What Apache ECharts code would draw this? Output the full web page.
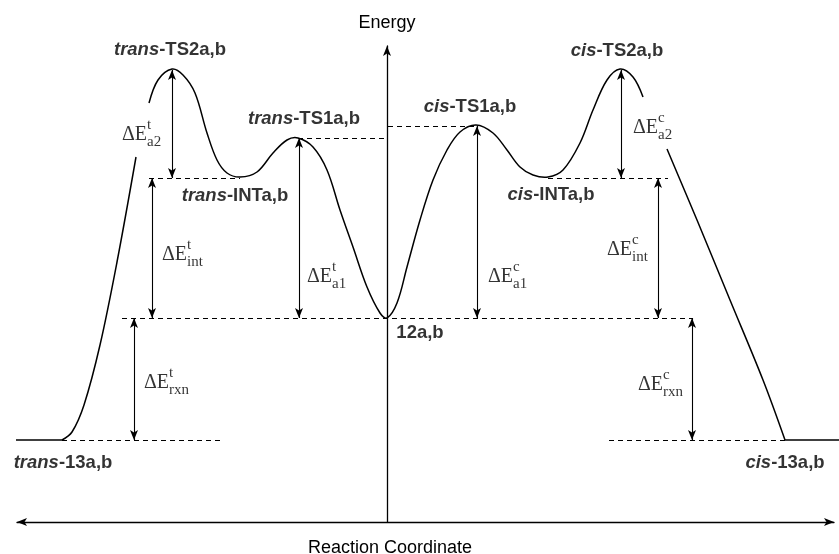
<!DOCTYPE html>
<html>
<head>
<meta charset="utf-8">
<script src="https://cdn.jsdelivr.net/npm/echarts@6/dist/echarts.min.js"></script>
<style>
  html, body { margin: 0; padding: 0; background: #fff; }
  #main { width: 839px; height: 554px; }
</style>
</head>
<body>
<div id="main"></div>
<script>
// stationary points of the profile: reaction coordinate / relative energy
const speciesNames = ['trans-13a,b', 'trans-TS2a,b', 'trans-INTa,b', 'trans-TS1a,b', '12a,b',
                      'cis-TS1a,b', 'cis-INTa,b', 'cis-TS2a,b', 'cis-13a,b'];
const speciesX = [-325, -215, -147, -89, 0, 89, 161, 233, 398];
const speciesE = [-30.5, 62.25, 35.25, 45, 0, 48.25, 35.25, 62.25, -30.5];

// the energy profile, in pieces (it breaks around the ΔE_a2 labels; product plateaus are flat)
const plateauTrans = [[-371, -30.5], [-325, -30.5]];
const curveTransOuter = [[-325, -30.5], [-315, -28.5], [-303, -21.75],
                         [-287, -6.75], [-270, 14], [-251, 40.25]];
const curveMiddle = [[-238, 53.75], [-229, 59.5], [-215, 62.25], [-204, 60.75], [-192, 56.25],
                     [-180, 46.25], [-170, 39.5], [-160, 36.25], [-147, 35.25], [-130, 36.5],
                     [-114, 41.25], [-100, 44.5], [-89, 45], [-74, 42.75], [-60, 37],
                     [-47, 27], [-34, 17.75], [-20, 7.75], [-7, 1.25], [0, 0],
                     [10, 3.75], [20, 12.75], [33, 24.5], [46, 34.5], [60, 42],
                     [73, 46.5], [89, 48.25], [106, 46.25], [120, 42], [133, 37.75],
                     [146, 35.75], [161, 35.25], [176, 37], [193, 43.75], [206, 52],
                     [220, 59.5], [233, 62.25], [246, 60.25], [256, 55.25]];
const curveCisOuter = [[280, 42.25], [310, 24.5], [343, 4.5], [376, -15.5], [398, -30.5]];
const plateauCis = [[398, -30.5], [452, -30.5]];

// dashed reference levels
const guideFrom = [-89, 1, -238, 161, -265, -325, 222];
const guideTo = [0, 89, -147, 281, 305, -167, 398];
const guideE = [45, 48, 35, 35, 0, -30.5, -30.5];

// energy differences (double arrows)
const deltaSup = ['t', 't', 't', 't', 'c', 'c', 'c', 'c'];
const deltaSub = ['a2', 'int', 'a1', 'rxn', 'a1', 'a2', 'int', 'rxn'];
const deltaX = [-215, -235, -88, -253, 90, 234, 271, 305];
const deltaFrom = [62, 35, 45, 0, 48, 62, 35, 0];
const deltaTo = [35, 0, 0, -30.5, 0, 35, 0, -30.5];

// label placement (pixels)
const nameOffsets = [[1, 23], [-2, -19], [-5, 19], [6, -19], [33, 15], [-6, -18], [3, 18], [-3, -18], [0, 23]];
const deltaOffsets = [[-50, 11], [10, 7], [8, 49], [10, 4], [11, 55], [12, 4], [-51, 2], [-54, 6]];

const sans = 'Liberation Sans';
const serif = 'Liberation Serif';

const chart = echarts.init(document.getElementById('main'));

const labelItems = [];
speciesNames.forEach((n, i) => {
  const dash = n.indexOf('-');
  const text = dash > 0 ? '{i|' + n.slice(0, dash) + '}{b|' + n.slice(dash) + '}' : '{b|' + n + '}';
  labelItems.push({ value: [speciesX[i], speciesE[i]], label: { formatter: text, offset: nameOffsets[i] } });
});
deltaSub.forEach((s, i) => {
  const mid = (deltaFrom[i] + deltaTo[i]) / 2;
  const dx = deltaOffsets[i][0], dy = deltaOffsets[i][1];
  labelItems.push({ value: [deltaX[i], mid], label: { formatter: '{m|ΔE}', align: 'left', offset: [dx, dy] } });
  labelItems.push({ value: [deltaX[i], mid], label: { formatter: '{s|' + deltaSup[i] + '}', align: 'left', offset: [dx + 25, dy - 10] } });
  labelItems.push({ value: [deltaX[i], mid], label: { formatter: '{s|' + s + '}', align: 'left', offset: [dx + 25, dy + 7] } });
});

// smooth curve through the points, drawn once per piece (points go through api.coord)
function curve(data) {
  return {
    type: 'custom', data: data, silent: true, clip: false,
    renderItem: function (params, api) {
      if (params.dataIndex !== 0) return null;
      return {
        type: 'polyline',
        shape: { points: data.map(p => api.coord(p)), smooth: data.length > 2 ? 0.35 : 0 },
        style: { stroke: '#000', lineWidth: 1.5, fill: null }
      };
    }
  };
}

const option = {
  animation: false,
  backgroundColor: '#fff',
  grid: { left: 17, right: 5, top: 46, bottom: 32, containLabel: false, outerBoundsMode: 'none' },
  xAxis: {
    type: 'value', min: -370, max: 447,
    axisLine: { onZero: false, symbol: ['arrow', 'arrow'], symbolSize: [6, 10], lineStyle: { color: '#000', width: 1.3 } },
    axisTick: { show: false }, axisLabel: { show: false }, splitLine: { show: false },
    name: 'Reaction Coordinate', nameLocation: 'middle', nameGap: 17,
    nameTextStyle: { color: '#000', fontSize: 18, fontFamily: sans, padding: [0, 71, 0, 0] }
  },
  yAxis: {
    type: 'value', min: -51, max: 68,
    axisLine: { onZero: true, symbol: ['none', 'arrow'], symbolSize: [6, 10], lineStyle: { color: '#000', width: 1.3 } },
    axisTick: { show: false }, axisLabel: { show: false }, splitLine: { show: false },
    name: 'Energy', nameLocation: 'end', nameGap: 14,
    nameTextStyle: { color: '#000', fontSize: 18, fontFamily: sans }
  },
  series: [
    curve(plateauTrans),
    curve(curveTransOuter),
    curve(curveMiddle),
    curve(curveCisOuter),
    curve(plateauCis),
    {
      type: 'line', data: [], silent: true,
      markLine: {
        silent: true, animation: false, symbol: 'none', label: { show: false },
        emphasis: { disabled: true },
        lineStyle: { color: '#000', type: [5, 4], width: 1.2 },
        data: guideFrom.map((x0, i) => [{ coord: [x0, guideE[i]] }, { coord: [guideTo[i], guideE[i]] }])
      }
    },
    {
      type: 'line', data: [], silent: true,
      markLine: {
        silent: true, animation: false, symbol: ['arrow', 'arrow'], symbolSize: [6, 10],
        label: { show: false }, emphasis: { disabled: true },
        lineStyle: { color: '#000', type: 'solid', width: 1.1 },
        data: deltaX.map((x, i) => [{ coord: [x, deltaFrom[i]] }, { coord: [x, deltaTo[i]] }])
      }
    },
    {
      type: 'scatter', data: labelItems, symbolSize: 0.1, silent: true,
      itemStyle: { color: 'transparent' },
      label: {
        show: true, position: 'inside', color: '#000', textBorderWidth: 0,
        rich: {
          i: { fontFamily: sans, fontSize: 18.5, fontWeight: 'bold', fontStyle: 'italic', color: '#000', textBorderWidth: 0 },
          b: { fontFamily: sans, fontSize: 18.5, fontWeight: 'bold', color: '#000', textBorderWidth: 0 },
          m: { fontFamily: serif, fontSize: 20, color: '#000', textBorderWidth: 0 },
          s: { fontFamily: serif, fontSize: 15, color: '#000', textBorderWidth: 0 }
        }
      }
    }
  ]
};

chart.setOption(option);
</script>
</body>
</html>
